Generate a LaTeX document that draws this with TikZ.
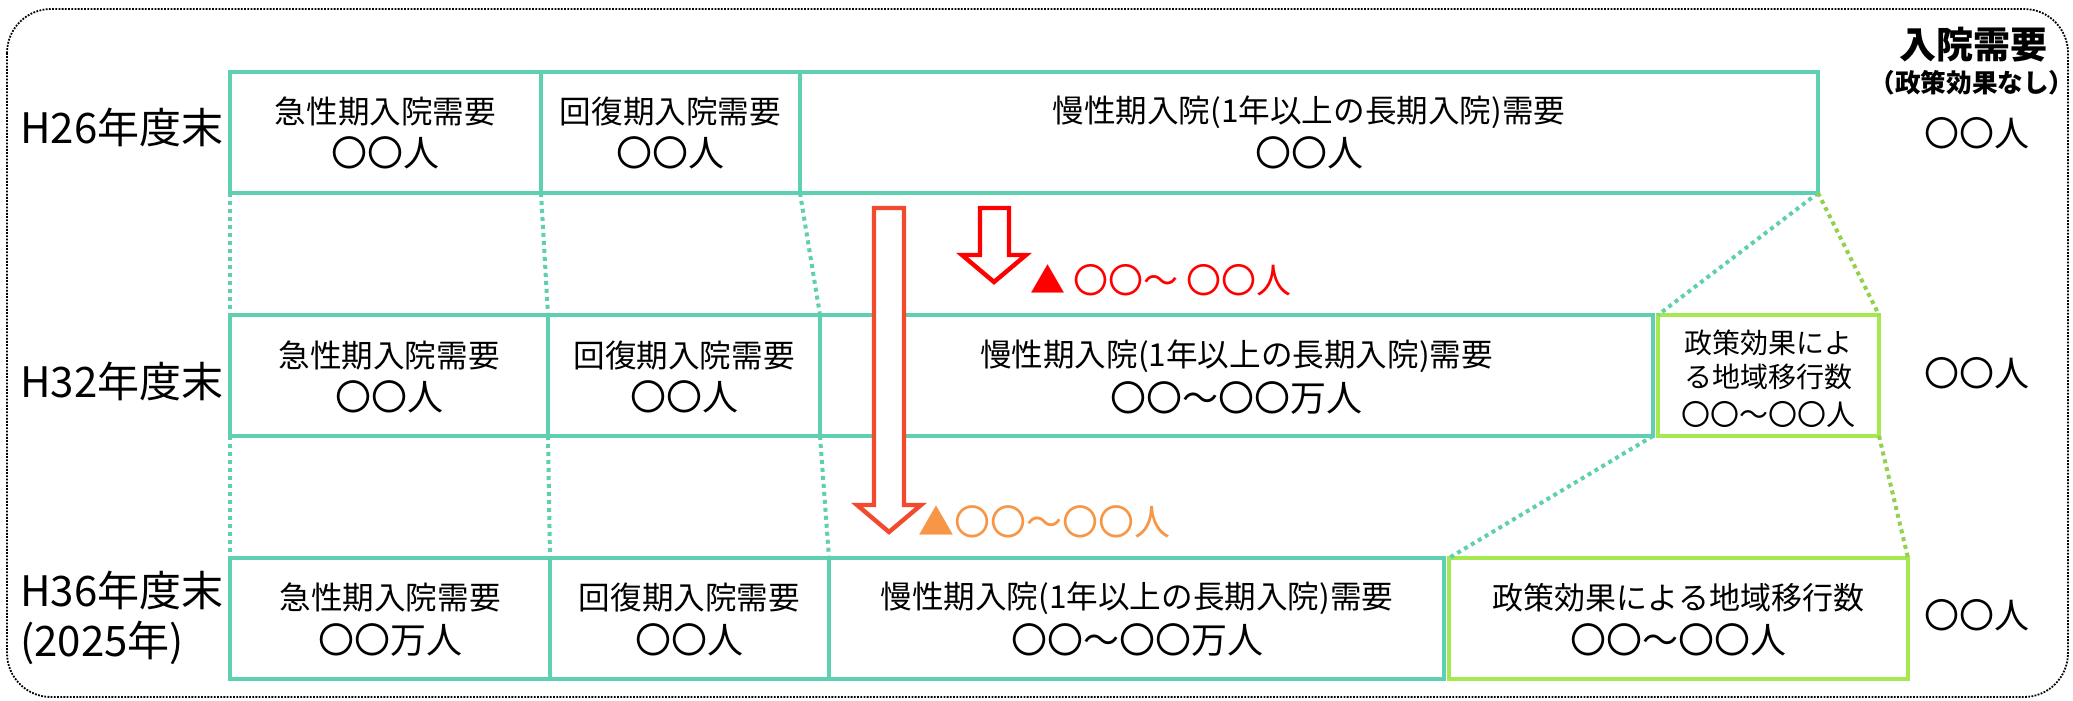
\documentclass[tikz,border=0pt]{standalone}
\usepackage{fontspec}
\setmainfont{Noto Sans CJK JP}
\usetikzlibrary{fit}
\definecolor{cTeal}{RGB}{94,207,176}
\definecolor{cGreen}{RGB}{165,232,80}
\definecolor{cGreenDot}{RGB}{146,208,80}
\definecolor{cArrow}{RGB}{242,74,46}
\definecolor{cRed}{RGB}{255,0,0}
\definecolor{cOrange}{RGB}{247,150,70}
\tikzset{
  boxT/.style={draw=cTeal, line width=2.3pt, inner sep=0pt, outer sep=0pt},
  boxG/.style={draw=cGreen, line width=2.3pt, inner sep=0pt, outer sep=0pt},
  dotT/.style={draw=cTeal, line width=2pt, dash pattern=on 2pt off 2pt},
  dotG/.style={draw=cGreenDot, line width=2pt, dash pattern=on 2pt off 2pt},
  outerline/.style={draw=black, line width=0.9pt, dash pattern=on 0.9pt off 0.7pt, rounded corners=22pt},
  blockarrow/.style={line width=2.2pt, fill=white, line join=miter},
  rowlbl/.style={font=\fontsize{21}{25}\selectfont, anchor=west, inner sep=0pt},
  tA/.style={font=\fontsize{15.8}{19}\selectfont, inner sep=0pt},
  tB/.style={font=\fontsize{18}{22}\selectfont, inner sep=0pt},
  tG/.style={font=\fontsize{14}{17}\selectfont, inner sep=0pt},
  tG2/.style={font=\fontsize{14.5}{17}\selectfont, inner sep=0pt},
  tGA/.style={font=\fontsize{15.5}{19}\selectfont, inner sep=0pt},
  tR/.style={font=\fontsize{17.5}{21}\selectfont, inner sep=0pt},
}
\begin{document}
\begin{tikzpicture}[x=0.5pt,y=-0.5pt]
\useasboundingbox (0,0) rectangle (2073,701);
% outer frame
\draw[outerline] (7,9) rectangle (2068,697);

% row 1
\node[boxT, fit={(230,72)(541,193)}] (a1) {};
\node[boxT, fit={(541,72)(800,193)}] (a2) {};
\node[boxT, fit={(800,72)(1818,193)}] (a3) {};
% row 2
\node[boxT, fit={(230,315)(548,436)}] (b1) {};
\node[boxT, fit={(548,315)(820,436)}] (b2) {};
\node[boxT, fit={(820,315)(1653,436)}] (b3) {};
\node[boxG, fit={(1658,315)(1879,436)}] (b4) {};
% row 3
\node[boxT, fit={(230,558)(550,679)}] (c1) {};
\node[boxT, fit={(550,558)(829,679)}] (c2) {};
\node[boxT, fit={(829,558)(1444,679)}] (c3) {};
\node[boxG, fit={(1449,558)(1908,679)}] (c4) {};

% dotted connectors row1 -> row2
\draw[dotT] (a1.south west) -- (b1.north west);
\draw[dotT] (a2.south west) -- (b2.north west);
\draw[dotT] (a3.south west) -- (b3.north west);
\draw[dotT] (a3.south east) -- (b4.north west);
\draw[dotG] (a3.south east) -- (b4.north east);
% dotted connectors row2 -> row3
\draw[dotT] (b1.south west) -- (c1.north west);
\draw[dotT] (b2.south west) -- (c2.north west);
\draw[dotT] (b3.south west) -- (c3.north west);
\draw[dotT] (b3.south east) -- (c4.north west);
\draw[dotG] (b4.south east) -- (c4.north east);

% row labels
\node[rowlbl] (l1) at (20,127) {H26年度末};
\node[rowlbl] (l2) at (20,381) {H32年度末};
\node[rowlbl] (l3) at (20,590) {H36年度末};
\node[rowlbl] (l4) at (20,643) {(2025年)};

% row 1 texts
\node[tA] (a1t) at (385.5,112) {急性期入院需要};
\node[tB] (a1n) at (385.5,153) {〇〇人};
\node[tA] (a2t) at (670.5,112) {回復期入院需要};
\node[tB] (a2n) at (670.5,153) {〇〇人};
\node[tA] (a3t) at (1309,112) {慢性期入院(1年以上の長期入院)需要};
\node[tB] (a3n) at (1309,153) {〇〇人};

% row 2 texts
\node[tA] (b1t) at (389,356) {急性期入院需要};
\node[tB] (b1n) at (389,397) {〇〇人};
\node[tA] (b2t) at (684,356) {回復期入院需要};
\node[tB] (b2n) at (684,397) {〇〇人};
\node[tA] (b3t) at (1236.5,356) {慢性期入院(1年以上の長期入院)需要};
\node[tB] (b3n) at (1236.5,398) {〇〇～〇〇万人};
\node[tG] (b4t1) at (1768.5,343) {政策効果によ};
\node[tG] (b4t2) at (1768.5,377) {る地域移行数};
\node[tG2] (b4n) at (1768.5,414) {〇〇～〇〇人};

% row 3 texts
\node[tA] (c1t) at (390,598) {急性期入院需要};
\node[tB] (c1n) at (390,640) {〇〇万人};
\node[tA] (c2t) at (689.5,598) {回復期入院需要};
\node[tB] (c2n) at (689.5,640) {〇〇人};
\node[tA] (c3t) at (1137,598) {慢性期入院(1年以上の長期入院)需要};
\node[tB] (c3n) at (1137,640) {〇〇～〇〇万人};
\node[tGA] (c4t) at (1678.5,598) {政策効果による地域移行数};
\node[tB] (c4n) at (1678.5,640) {〇〇～〇〇人};

% right column
\node[font=\fontsize{18.5}{22}\selectfont\bfseries, inner sep=0pt] (h1) at (1973,45) {入院需要};
\node[font=\fontsize{12.8}{15}\selectfont\bfseries, inner sep=0pt] (h2) at (1972,83) {（政策効果なし）};
\node[tR] (r1) at (1977,133) {〇〇人};
\node[tR] (r2) at (1977,373) {〇〇人};
\node[tR] (r3) at (1977,615) {〇〇人};

% block arrows
\draw[blockarrow, draw=cArrow] (874,208) -- (904,208) -- (904,505) -- (921,505) -- (889,532) -- (857,505) -- (874,505) -- cycle;
\draw[blockarrow, draw=cRed] (980,208) -- (1009,208) -- (1009,255) -- (1026,255) -- (994,282) -- (962,255) -- (980,255) -- cycle;

% reduction labels
\node[tR, text=cRed, anchor=west] (d1) at (1030,280) {▲ 〇〇～ 〇〇人};
\node[tB, text=cOrange, anchor=west] (d2) at (918,522) {▲〇〇～〇〇人};
\end{tikzpicture}
\end{document}
